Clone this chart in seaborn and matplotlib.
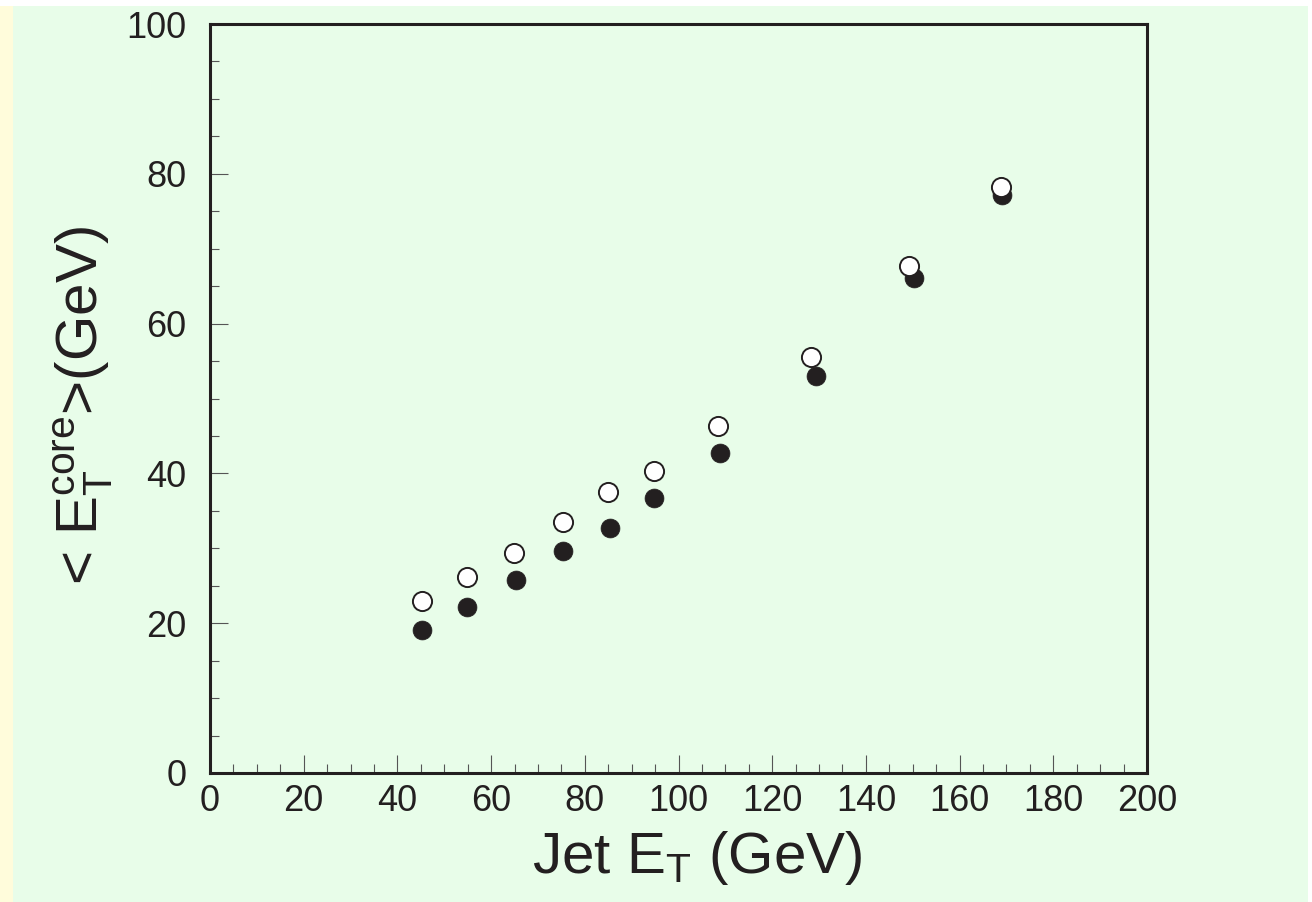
import matplotlib
matplotlib.use("Agg")
import matplotlib.pyplot as plt
import seaborn as sns
import pandas as pd
from matplotlib.ticker import MultipleLocator
from matplotlib.patches import Rectangle

# Data
jet_et_open = [45.3, 54.9, 64.9, 75.3, 85.0, 94.8, 108.4, 128.3, 149.2, 168.8]
core_open = [23.0, 26.2, 29.4, 33.5, 37.5, 40.3, 46.3, 55.5, 67.7, 78.2]
jet_et_filled = [45.3, 54.9, 65.3, 75.3, 85.4, 94.8, 108.9, 129.3, 150.3, 169.0]
core_filled = [19.1, 22.2, 25.8, 29.6, 32.7, 36.7, 42.7, 53.0, 66.1, 77.2]

x_ticks = [0, 20, 40, 60, 80, 100, 120, 140, 160, 180, 200]
y_ticks = [0, 20, 40, 60, 80, 100]

sns.set_theme(style="white")
plt.rcParams['font.family'] = ['Liberation Sans', 'DejaVu Sans']
plt.rcParams['mathtext.fontset'] = 'custom'
plt.rcParams['mathtext.rm'] = 'Liberation Sans'
plt.rcParams['mathtext.it'] = 'Liberation Sans'
plt.rcParams['mathtext.bf'] = 'Liberation Sans:bold'

DARK = '#231f20'
GREEN = '#e8fde9'
YELLOW = '#fffcdb'

W, H = 1312, 902
fig = plt.figure(figsize=(W / 100, H / 100), dpi=100)
fig.patch.set_facecolor('white')
fig.add_artist(Rectangle((13 / W, 0), (1308 - 13) / W, (H - 6) / H,
                         transform=fig.transFigure, facecolor=GREEN, edgecolor='none', zorder=-10))
fig.add_artist(Rectangle((0, 0), 13 / W, (H - 6) / H,
                         transform=fig.transFigure, facecolor=YELLOW, edgecolor='none', zorder=-10))

ax = fig.add_axes([210 / W, 1 - 773 / H, (1147 - 210) / W, (773 - 24) / H])
ax.set_facecolor(GREEN)

df_f = pd.DataFrame({'x': jet_et_filled, 'y': core_filled})
df_o = pd.DataFrame({'x': jet_et_open, 'y': core_open})

sns.scatterplot(data=df_f, x='x', y='y', ax=ax, s=185, color=DARK,
                edgecolor=DARK, linewidth=0.5, zorder=3, legend=False)
sns.scatterplot(data=df_o, x='x', y='y', ax=ax, s=190, color='white',
                edgecolor=DARK, linewidth=1.4, zorder=4, legend=False)

ax.set_xlim(0, 200)
ax.set_ylim(0, 100)
ax.set_xticks(x_ticks)
ax.set_yticks(y_ticks)
ax.xaxis.set_minor_locator(MultipleLocator(5))
ax.yaxis.set_minor_locator(MultipleLocator(5))

for sp in ax.spines.values():
    sp.set_visible(True)
    sp.set_color(DARK)
    sp.set_linewidth(2.2)

ax.tick_params(axis='both', which='both', bottom=True, left=True, top=False, right=False)
ax.tick_params(axis='both', which='major', direction='in', length=13, width=0.8,
               color='#555555', labelsize=26, labelcolor=DARK)
ax.tick_params(axis='both', which='minor', direction='in', length=6.5, width=0.8,
               color='#555555')
ax.tick_params(axis='x', which='major', pad=8)
ax.tick_params(axis='y', which='major', pad=17)

ax.set_xlabel(r'Jet E$_\mathregular{T}$ (GeV)', fontsize=42, color=DARK)
ax.set_ylabel(r'< E$_\mathregular{T}^\mathregular{core}$>(GeV)', fontsize=42, color=DARK)
ax.xaxis.set_label_coords(0.52, -0.075)
ax.yaxis.set_label_coords(-0.101, 0.49)

fig.savefig('out.png', dpi=100, facecolor=fig.get_facecolor())
